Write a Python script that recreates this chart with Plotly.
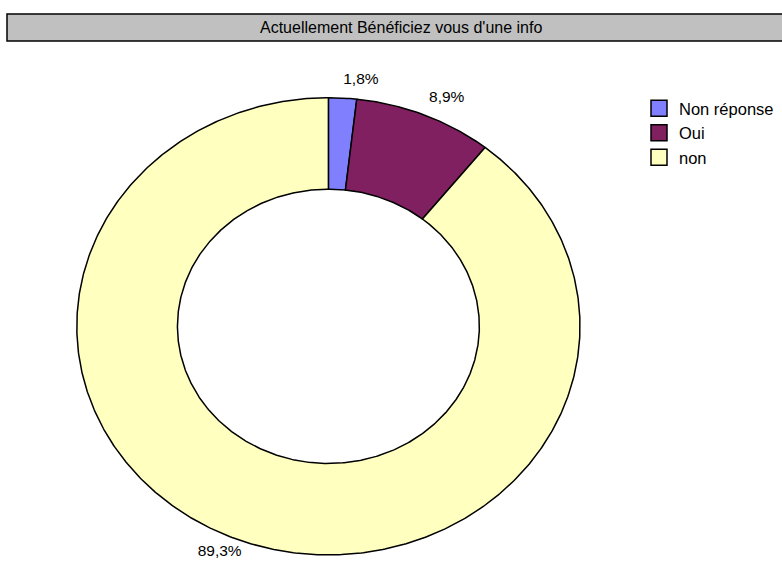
import numpy as np
import plotly.graph_objects as go

# ---- data ----
labels = ["Non réponse", "Oui", "non"]
values = [1.8, 8.9, 89.3]
colors = ["#8080FF", "#802060", "#FFFFC0"]
title_text = "Actuellement Bénéficiez vous d'une info"

# ---- geometry / style ----
W, H = 782, 563
cx, cy = 328.4, 326.3      # centre of donut in px
rx, ry = 251.6, 228.6      # outer radii in px (chart is stretched horizontally)
hole = 0.6
label_r = 1.045
FONT = "Liberation Sans, Arial, sans-serif"

fig = go.Figure()

total = float(sum(values))
cum = np.concatenate([[0.0], np.cumsum(values)]) / total * 2 * np.pi

for i, (lab, col) in enumerate(zip(labels, colors)):
    a0, a1 = cum[i], cum[i + 1]
    n = max(int((a1 - a0) / (2 * np.pi) * 720) + 2, 6)
    t = np.linspace(a0, a1, n)
    xo, yo = np.sin(t), np.cos(t)
    xs = np.concatenate([xo, hole * xo[::-1], [xo[0]]])
    ys = np.concatenate([yo, hole * yo[::-1], [yo[0]]])
    fig.add_trace(go.Scatter(
        x=xs, y=ys, fill="toself", fillcolor=col, mode="lines",
        line=dict(color="black", width=1.5), showlegend=False,
        hoverinfo="skip", name=lab))

# percentage labels
mid = (cum[:-1] + cum[1:]) / 2
lx = label_r * np.sin(mid)
ly = label_r * np.cos(mid)
positions = []
for sx, sy in zip(lx, ly):
    v = "top" if sy >= 0 else "middle"
    h = "right" if sx >= 0 else "left"
    positions.append(f"{v} {h}")
texts = [f"{v:.1f}%".replace(".", ",") for v in values]
fig.add_trace(go.Scatter(
    x=lx, y=ly, mode="text", text=texts, textposition=positions,
    textfont=dict(size=15.5, color="black", family=FONT),
    showlegend=False, hoverinfo="skip", cliponaxis=False))

# legend entries
for lab, col in zip(labels, colors):
    fig.add_trace(go.Scatter(
        x=[None], y=[None], mode="markers", name=lab,
        marker=dict(symbol="square", size=16, color=col,
                    line=dict(color="black", width=1.5))))

fig.update_layout(
    width=W, height=H,
    margin=dict(l=0, r=0, t=0, b=0),
    paper_bgcolor="white", plot_bgcolor="white",
    font=dict(family=FONT, color="black", size=16),
    xaxis=dict(visible=False, range=[(0 - cx) / rx, (W - cx) / rx], fixedrange=True),
    yaxis=dict(visible=False, range=[(cy - H) / ry, cy / ry], fixedrange=True),
    legend=dict(x=639 / W, y=1 - 91 / H, xanchor="left", yanchor="top",
                bgcolor="rgba(0,0,0,0)", font=dict(size=16.5, family=FONT),
                tracegroupgap=0),
    shapes=[dict(type="rect", xref="paper", yref="paper",
                 x0=7 / W, x1=1.05, y0=1 - 41 / H, y1=1 - 14 / H,
                 fillcolor="#C0C0C0", line=dict(color="black", width=1.5),
                 layer="below")],
    annotations=[dict(text=title_text, xref="paper", yref="paper",
                      x=400.5 / W, y=1 - 27.5 / H, xanchor="center", yanchor="middle",
                      showarrow=False, font=dict(size=16, family=FONT, color="black"))],
    hovermode=False,
)

fig.write_html("out.html", config={"displayModeBar": False},
               post_script="document.body.style.margin='0px';")
